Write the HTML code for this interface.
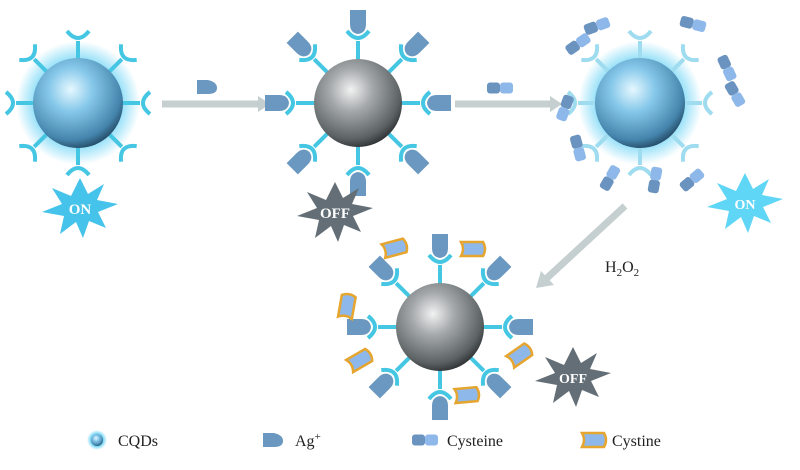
<!DOCTYPE html>
<html><head><meta charset="utf-8"><style>
html,body{margin:0;padding:0;background:#fff;}
svg{display:block;font-family:"Liberation Serif",serif;}
</style></head><body>
<svg width="800" height="470" viewBox="0 0 800 470" xmlns="http://www.w3.org/2000/svg">
<defs>
<radialGradient id="blue" cx="0.42" cy="0.35" r="0.7">
<stop offset="0" stop-color="#e6f8ff"/><stop offset="0.35" stop-color="#86c8ea"/><stop offset="0.8" stop-color="#4585ad"/><stop offset="1" stop-color="#1d3d55"/></radialGradient>
<radialGradient id="gray" cx="0.42" cy="0.35" r="0.7">
<stop offset="0" stop-color="#f2f2f2"/><stop offset="0.35" stop-color="#a4a8aa"/><stop offset="0.8" stop-color="#5c6264"/><stop offset="1" stop-color="#232628"/></radialGradient>
<radialGradient id="glow" cx="0.5" cy="0.5" r="0.5">
<stop offset="0.6" stop-color="#5fd0f5" stop-opacity="0.9"/><stop offset="1" stop-color="#5fd0f5" stop-opacity="0"/></radialGradient>
<g id="lig"><line x1="0" y1="-40" x2="0" y2="-62" stroke="#45c6e3" stroke-width="4"/><path d="M-11,-72 Q0,-58 11,-72" fill="none" stroke="#45c6e3" stroke-width="4"/></g>
<g id="ligl"><line x1="0" y1="-40" x2="0" y2="-62" stroke="#9fdcef" stroke-width="4"/><path d="M-11,-72 Q0,-58 11,-72" fill="none" stroke="#9fdcef" stroke-width="4"/></g>
<path id="ag" d="M-8,-93 L8,-93 L8,-79 Q8,-70 0,-69 Q-8,-70 -8,-79 Z" fill="#6a98c0"/>
<g id="cys"><rect x="-13" y="-5.5" width="13" height="11" rx="3" fill="#6a93bf"/><rect x="0" y="-5.5" width="13" height="11" rx="3" fill="#8fb8ea"/></g>
<path id="cyst" d="M-12,-7 L10,-7 Q14,0 10,7 L-12,7 Q-8,0 -12,-7 Z" fill="#8fb8ea" stroke="#e5a52e" stroke-width="2.5"/>
<polygon id="star" points="0,-30 8,-14 24,-24 17,-8 38,-4 18,4 26,20 9,13 3,30 -4,14 -20,26 -16,8 -38,4 -18,-4 -28,-20 -9,-12"/>
</defs>

<circle cx="78" cy="103" r="62" fill="url(#glow)"/>
<g transform="translate(78,103)">
<use href="#lig"/><use href="#lig" transform="rotate(45)"/><use href="#lig" transform="rotate(90)"/><use href="#lig" transform="rotate(135)"/><use href="#lig" transform="rotate(180)"/><use href="#lig" transform="rotate(225)"/><use href="#lig" transform="rotate(270)"/><use href="#lig" transform="rotate(315)"/>
</g>
<circle cx="78" cy="103" r="45" fill="url(#blue)"/>
<use href="#star" transform="translate(80,208)" fill="#45c3ea"/>
<text x="80" y="214" text-anchor="middle" font-size="15" font-weight="bold" fill="#fff">ON</text>

<line x1="162" y1="104" x2="260" y2="104" stroke="#c5cfd0" stroke-width="7"/>
<polygon points="258,96 270,104 258,112" fill="#c5cfd0"/>
<path d="M197,80 L208,80 Q217,82 217,88 Q217,94 208,94 L197,94 Z" fill="#6a98c0"/>

<g transform="translate(358,103)">
<g id="ligag"><use href="#lig"/><use href="#ag"/></g>
<use href="#ligag" transform="rotate(45)"/><use href="#ligag" transform="rotate(90)"/><use href="#ligag" transform="rotate(135)"/><use href="#ligag" transform="rotate(180)"/><use href="#ligag" transform="rotate(225)"/><use href="#ligag" transform="rotate(270)"/><use href="#ligag" transform="rotate(315)"/>
</g>
<circle cx="358" cy="103" r="44" fill="url(#gray)"/>
<use href="#star" transform="translate(335,212)" fill="#636e76"/>
<text x="335" y="218" text-anchor="middle" font-size="15" font-weight="bold" fill="#fff">OFF</text>

<line x1="455" y1="104" x2="552" y2="104" stroke="#c5cfd0" stroke-width="7"/>
<polygon points="550,96 562,104 550,112" fill="#c5cfd0"/>
<use href="#cys" transform="translate(500,88)"/>

<circle cx="640" cy="103" r="62" fill="url(#glow)"/>
<g transform="translate(640,103)">
<use href="#ligl"/><use href="#ligl" transform="rotate(45)"/><use href="#ligl" transform="rotate(90)"/><use href="#ligl" transform="rotate(135)"/><use href="#ligl" transform="rotate(180)"/><use href="#ligl" transform="rotate(225)"/><use href="#ligl" transform="rotate(270)"/><use href="#ligl" transform="rotate(315)"/>
</g>
<circle cx="640" cy="103" r="45" fill="url(#blue)"/>
<use href="#cys" transform="translate(597,26) rotate(-20)"/>
<use href="#cys" transform="translate(693,24) rotate(15)"/>
<use href="#cys" transform="translate(578,44) rotate(-35)"/>
<use href="#cys" transform="translate(727,68) rotate(65)"/>
<use href="#cys" transform="translate(735,94) rotate(60)"/>
<use href="#cys" transform="translate(565,108) rotate(110)"/>
<use href="#cys" transform="translate(578,148) rotate(75)"/>
<use href="#cys" transform="translate(610,178) rotate(-60)"/>
<use href="#cys" transform="translate(655,180) rotate(-80)"/>
<use href="#cys" transform="translate(692,180) rotate(-40)"/>
<use href="#star" transform="translate(745,203)" fill="#5fd6f5"/>
<text x="745" y="209" text-anchor="middle" font-size="14" font-weight="bold" fill="#fff">ON</text>

<line x1="625" y1="206" x2="547" y2="278" stroke="#c5cfd0" stroke-width="7"/>
<polygon points="536,288 541,271 554,285" fill="#c5cfd0"/>
<text x="605" y="272" font-size="16" fill="#222">H<tspan font-size="11" dy="4">2</tspan><tspan dy="-4">O</tspan><tspan font-size="11" dy="4">2</tspan></text>

<g transform="translate(440,327)">
<use href="#ligag"/>
<use href="#ligag" transform="rotate(45)"/><use href="#ligag" transform="rotate(90)"/><use href="#ligag" transform="rotate(135)"/><use href="#ligag" transform="rotate(180)"/><use href="#ligag" transform="rotate(225)"/><use href="#ligag" transform="rotate(270)"/><use href="#ligag" transform="rotate(315)"/>
</g>
<circle cx="440" cy="327" r="44" fill="url(#gray)"/>
<use href="#cyst" transform="translate(395,248) rotate(-15)"/>
<use href="#cyst" transform="translate(473,249)"/>
<use href="#cyst" transform="translate(347,306) rotate(-80)"/>
<use href="#cyst" transform="translate(360,360) rotate(-30)"/>
<use href="#cyst" transform="translate(520,355) rotate(-35)"/>
<use href="#cyst" transform="translate(467,395) rotate(-5)"/>
<use href="#star" transform="translate(573,377)" fill="#636e76"/>
<text x="573" y="383" text-anchor="middle" font-size="14" font-weight="bold" fill="#fff">OFF</text>

<circle cx="97" cy="440" r="10" fill="url(#glow)"/>
<circle cx="97" cy="440" r="6" fill="url(#blue)"/>
<text x="118" y="446" font-size="16" fill="#222">CQDs</text>
<path d="M263,433 L274,433 Q283,435 283,441 Q283,447 274,447 L263,447 Z" fill="#6a98c0"/>
<text x="295" y="446" font-size="16" fill="#222">Ag<tspan font-size="11" dy="-6">+</tspan></text>
<use href="#cys" transform="translate(425,440)"/>
<text x="447" y="446" font-size="16" fill="#222">Cysteine</text>
<use href="#cyst" transform="translate(594,440)"/>
<text x="612" y="446" font-size="16" fill="#222">Cystine</text>
</svg>
</body></html>
